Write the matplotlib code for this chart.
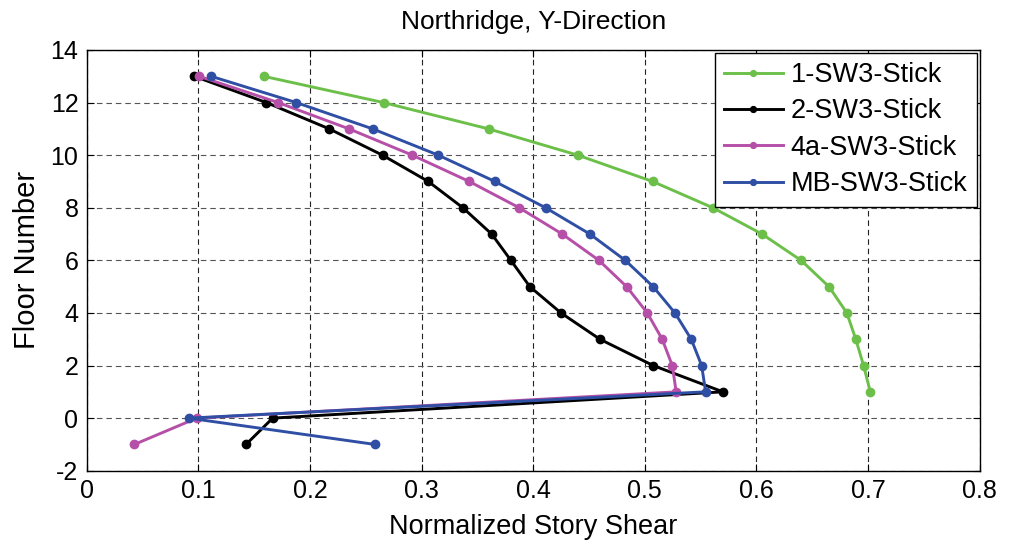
import matplotlib
matplotlib.use("Agg")
import matplotlib.pyplot as plt

plt.rcParams['font.family'] = ['Liberation Sans', 'DejaVu Sans']
plt.rcParams['axes.unicode_minus'] = False

# Story levels (roof down to basement)
floors_1 = [13, 12, 11, 10, 9, 8, 7, 6, 5, 4, 3, 2, 1]
floors_all = [13, 12, 11, 10, 9, 8, 7, 6, 5, 4, 3, 2, 1, 0, -1]

# Normalized story shear for each model
shear_1 = [0.1585, 0.266, 0.360, 0.440, 0.507, 0.561, 0.605, 0.640,
           0.665, 0.681, 0.689, 0.696, 0.702]
shear_2 = [0.0964, 0.161, 0.2173, 0.265, 0.306, 0.337, 0.3628, 0.380,
           0.397, 0.4249, 0.4598, 0.5075, 0.570, 0.1666, 0.1427]
shear_4a = [0.1006, 0.1716, 0.235, 0.2917, 0.3427, 0.3875, 0.426, 0.4589,
            0.4837, 0.5022, 0.5156, 0.5246, 0.5281, 0.0985, 0.0427]
shear_mb = [0.1114, 0.1878, 0.2562, 0.315, 0.3657, 0.4111, 0.4508, 0.4825,
            0.5075, 0.527, 0.5416, 0.5509, 0.5545, 0.0914, 0.2582]

labels = ['1-SW3-Stick', '2-SW3-Stick', '4a-SW3-Stick', 'MB-SW3-Stick']
colors = ['#6cc04a', '#000000', '#b64fa8', '#2f4fa5']

x_ticks = [0, 0.1, 0.2, 0.3, 0.4, 0.5, 0.6, 0.7, 0.8]
x_tick_labels = ['0', '0.1', '0.2', '0.3', '0.4', '0.5', '0.6', '0.7', '0.8']
y_ticks = [-2, 0, 2, 4, 6, 8, 10, 12, 14]

fig = plt.figure(figsize=(10.11, 5.44), dpi=100)
ax = fig.add_axes([0.0858, 0.1347, 0.8832, 0.7734])

series = [(shear_1, floors_1), (shear_2, floors_all),
          (shear_4a, floors_all), (shear_mb, floors_all)]
for (xs, ys), lab, col in zip(series, labels, colors):
    ax.plot(xs, ys, '-o', color=col, lw=2.1, ms=6, label=lab)

ax.set_xlim(0, 0.8)
ax.set_ylim(-2, 14)
ax.set_xticks(x_ticks)
ax.set_xticklabels(x_tick_labels)
ax.set_yticks(y_ticks)

ax.xaxis.grid(True, color='#222222', linestyle=(0, (5, 3.5)), lw=0.8)
ax.yaxis.grid(True, color='#555555', linestyle=(0, (5, 3.5)), lw=0.8)

ax.tick_params(direction='in', top=True, right=True, labelsize=18,
               length=5, width=0.8, pad=6)
for sp in ax.spines.values():
    sp.set_linewidth(1.0)

ax.set_title('Northridge, Y-Direction', fontsize=19, pad=15)
ax.set_xlabel('Normalized Story Shear', fontsize=19.5, labelpad=8)
ax.set_ylabel('Floor Number', fontsize=21, labelpad=7)

leg = ax.legend(loc='upper right', fontsize=19.5, frameon=True, fancybox=False,
                edgecolor='black', framealpha=1, handlelength=2.15,
                borderpad=0.35, labelspacing=0.38, handletextpad=0.3,
                borderaxespad=0.1, markerscale=0.7)
leg.get_frame().set_linewidth(1.0)

fig.savefig('out.png', dpi=100)
